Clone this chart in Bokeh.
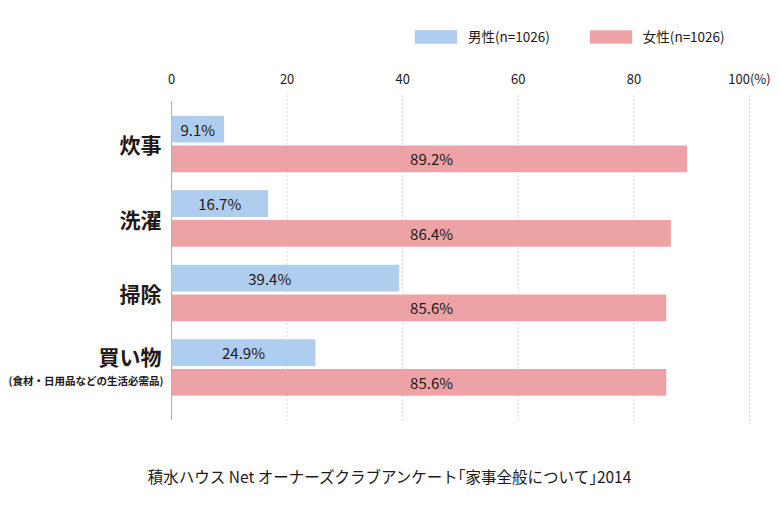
from bokeh.plotting import figure
from bokeh.models import Range1d, FixedTicker, Label, Legend, LegendItem, ColumnDataSource
from bokeh.core.properties import value
from bokeh.embed import file_html
from bokeh.resources import INLINE
import numpy as np

categories = ["炊事", "洗濯", "掃除", "買い物"]
sub_note = "(食材・日用品などの生活必需品)"
male = [9.1, 16.7, 39.4, 24.9]
female = [89.2, 86.4, 85.6, 85.6]
series_names = ["男性(n=1026)", "女性(n=1026)"]
x_ticks = [0, 20, 40, 60, 80, 100]
x_tick_labels = ["0", "20", "40", "60", "80", "100(%)"]
caption = "積水ハウス Net オーナーズクラブアンケート｢家事全般について｣2014"

BLUE = "#afcdef"
PINK = "#eda3a6"
TXT = "#231815"
FONT = "Noto Sans CJK JP"

# layout (data units): plot area spans the whole canvas so that all texts lie inside it
W, H = 780, 500
X0PX, PXU = 171, 5.78          # x=0 at 171px, 5.78px per percent
Y0PX, PYU = 143.5, 74.5        # first category at 143.5px, 74.5px per category
def dx(px): return (px - X0PX) / PXU
def dy(py): return (py - Y0PX) / PYU

idx = np.arange(len(categories))
y_m = idx - 0.2
y_f = idx + 0.2

p = figure(width=W, height=H, output_backend="svg", toolbar_location=None,
           x_range=Range1d(dx(0), dx(W)), y_range=Range1d(dy(H), dy(0)),
           x_axis_location="above",
           min_border_left=0, min_border_right=0, min_border_top=0, min_border_bottom=0)
p.outline_line_color = None
p.background_fill_color = "white"
p.yaxis.visible = False
p.xgrid.visible = False
p.ygrid.visible = False

top_y, bottom_y = dy(95), dy(420)

ax = p.xaxis[0]
ax.fixed_location = top_y
ax.ticker = FixedTicker(ticks=x_ticks)
ax.major_label_overrides = {t: l for t, l in zip(x_ticks, x_tick_labels)}
ax.axis_line_color = None
ax.major_tick_line_color = None
ax.minor_tick_line_color = None
ax.major_label_standoff = 2
ax.major_label_text_font = FONT
ax.major_label_text_font_size = "13px"
ax.major_label_text_color = TXT

# dotted grid lines at the ticks, solid base line at 0
gx = x_ticks[1:]
p.segment(x0=gx, x1=gx, y0=[top_y] * len(gx), y1=[bottom_y] * len(gx),
          line_color="#b5b5b5", line_width=1, line_dash="1 3")
p.segment(x0=[0], x1=[0], y0=[dy(100)], y1=[bottom_y], line_color="#b0b0b0", line_width=1)

src_m = ColumnDataSource(dict(y=y_m, v=male, lx=np.minimum(np.array(male) / 2, 17),
                              t=[f"{v:.1f}%" for v in male]))
src_f = ColumnDataSource(dict(y=y_f, v=female, lx=[45] * len(female),
                              t=[f"{v:.1f}%" for v in female]))

r_m = p.hbar(y="y", left=0, right="v", height=0.36, source=src_m, fill_color=BLUE, line_color=None)
r_f = p.hbar(y="y", left=0, right="v", height=0.36, source=src_f, fill_color=PINK, line_color=None)

for s in (src_m, src_f):
    p.text(x="lx", y="y", text="t", source=s, text_align="center", text_baseline="middle",
           text_font=value(FONT), text_font_size="15px", text_color=TXT)

for i, c in enumerate(categories):
    last = i == len(categories) - 1
    p.add_layout(Label(x=dx(161), y=i - (0.15 if last else 0.0), text=c, text_align="right",
                       text_baseline="middle", text_font=FONT, text_font_size="21px",
                       text_font_style="bold", text_color=TXT))
p.add_layout(Label(x=dx(163), y=len(categories) - 1 + 0.17, text=sub_note, text_align="right",
                   text_baseline="middle", text_font=FONT, text_font_size="10.5px",
                   text_font_style="bold", text_color=TXT))

p.add_layout(Label(x=dx(390), y=dy(475), text=caption, text_align="center", text_baseline="middle",
                   text_font=FONT, text_font_size="15.5px", text_color=TXT))

legend = Legend(items=[LegendItem(label=series_names[0], renderers=[r_m]),
                       LegendItem(label=series_names[1], renderers=[r_f])],
                orientation="horizontal", location=(409, H - 46),
                glyph_width=53, glyph_height=17, label_height=17, label_standoff=6,
                spacing=34, padding=0, margin=0, border_line_color=None,
                background_fill_alpha=0, label_text_font=FONT, label_text_font_size="13.5px",
                label_text_color=TXT)
p.add_layout(legend, "center")

open("out.html", "w").write(file_html(p, INLINE))
